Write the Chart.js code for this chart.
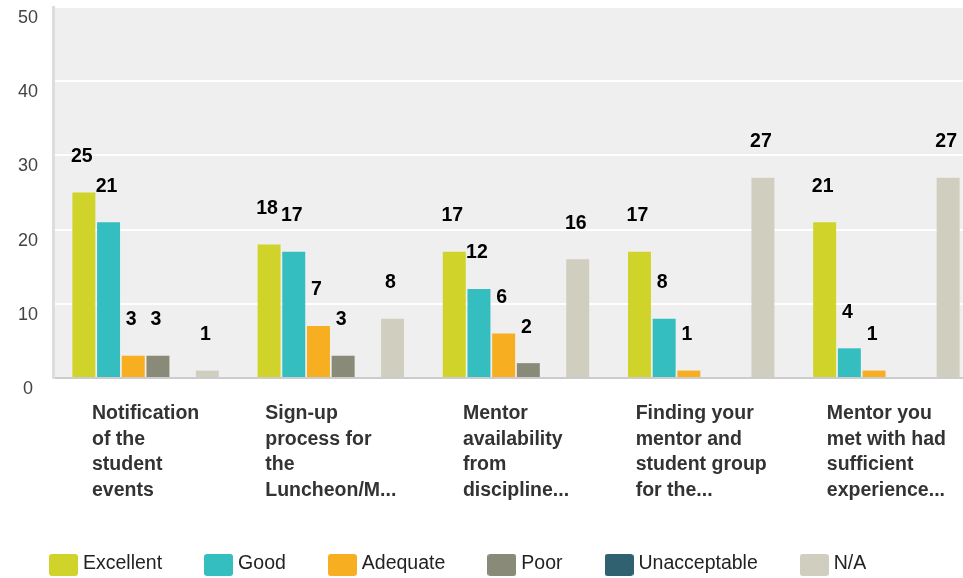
<!DOCTYPE html>
<html>
<head>
<meta charset="utf-8">
<script src="https://cdn.jsdelivr.net/npm/chart.js@4/dist/chart.umd.min.js"></script>
<style>
  html, body { margin: 0; padding: 0; background: #ffffff; overflow: hidden; }
  #wrap { width: 963px; height: 578px; position: relative; overflow: hidden; }
  #c { display: block; }
</style>
</head>
<body>
<div id="wrap"><canvas id="c" width="979" height="578"></canvas></div>
<script>
const categories = [
  ["Notification", "of the", "student", "events"],
  ["Sign-up", "process for", "the", "Luncheon/M..."],
  ["Mentor", "availability", "from", "discipline..."],
  ["Finding your", "mentor and", "student group", "for the..."],
  ["Mentor you", "met with had", "sufficient", "experience..."]
];
const seriesNames = ["Excellent", "Good", "Adequate", "Poor", "Unacceptable", "N/A"];
const excellent = [25, 18, 17, 17, 21];
const good = [21, 17, 12, 8, 4];
const adequate = [3, 7, 6, 1, 1];
const poor = [3, 3, 2, 0, 0];
const unacceptable = [0, 0, 0, 0, 0];
const na = [1, 8, 16, 27, 27];
const yTicks = [0, 10, 20, 30, 40, 50];

const seriesValues = [excellent, good, adequate, poor, unacceptable, na];
const seriesColors = ["#D0D32A", "#34BEC0", "#F7AE20", "#8A8A78", "#2F6170", "#D0CEBF"];

const FONT = "'Liberation Sans', Arial, Helvetica, sans-serif";
const BIG = 19.5;

function legendSwatch(color) {
  const c = document.createElement('canvas');
  c.width = 29; c.height = 28;
  const g = c.getContext('2d');
  g.fillStyle = color;
  g.beginPath();
  if (g.roundRect) g.roundRect(0, 4, 29, 22, 3); else g.rect(0, 4, 29, 22);
  g.fill();
  return c;
}
const swatches = seriesColors.map(legendSwatch);

const plotBg = {
  id: 'plotBg',
  beforeDraw(chart) {
    const { ctx, chartArea: a } = chart;
    ctx.save();
    ctx.fillStyle = '#EFEFEF';
    ctx.fillRect(a.left, a.top - 1, a.right - a.left, a.bottom - a.top + 1);
    ctx.restore();
  }
};

const valueLabels = {
  id: 'valueLabels',
  afterDatasetsDraw(chart) {
    const { ctx } = chart;
    ctx.save();
    ctx.font = "bold " + BIG + "px " + FONT;
    ctx.fillStyle = '#000000';
    ctx.textAlign = 'center';
    ctx.textBaseline = 'middle';
    chart.data.datasets.forEach((ds, di) => {
      const meta = chart.getDatasetMeta(di);
      meta.data.forEach((el, i) => {
        const v = ds.data[i];
        if (v > 0) ctx.fillText(String(v), el.x - 2, el.y - 36);
      });
    });
    ctx.restore();
  }
};

const catLabels = {
  id: 'catLabels',
  afterDraw(chart) {
    const { ctx, chartArea: a } = chart;
    const xs = chart.scales.x;
    ctx.save();
    ctx.font = "bold " + BIG + "px " + FONT;
    ctx.fillStyle = '#333333';
    ctx.textAlign = 'left';
    ctx.textBaseline = 'middle';
    categories.forEach((lines, i) => {
      const cx = xs.getPixelForTick(i);
      const w = Math.max(...lines.map(l => ctx.measureText(l).width));
      const left = cx - w / 2;
      lines.forEach((l, k) => {
        ctx.fillText(l, left, a.bottom + 36 + k * 25.5);
      });
    });
    ctx.restore();
  }
};

new Chart(document.getElementById('c'), {
  type: 'bar',
  data: {
    labels: categories,
    datasets: seriesNames.map((name, i) => ({
      label: name,
      data: seriesValues[i],
      backgroundColor: seriesColors[i],
      borderWidth: 0,
      categoryPercentage: 0.8,
      barPercentage: 0.93
    }))
  },
  options: {
    responsive: false,
    animation: false,
    devicePixelRatio: 1,
    layout: { padding: { top: 7, right: 0, left: 7, bottom: -5.75 } },
    plugins: {
      tooltip: { enabled: false },
      legend: {
        position: 'bottom',
        align: 'start',
        labels: {
          usePointStyle: true,
          pointStyleWidth: 19.5,
          boxHeight: 19.5,
          padding: 46.75,
          color: '#222222',
          font: { family: FONT, size: BIG },
          generateLabels(chart) {
            const items = Chart.defaults.plugins.legend.labels.generateLabels(chart);
            items.forEach((it, i) => { it.pointStyle = swatches[i]; });
            return items;
          }
        }
      }
    },
    scales: {
      x: {
        grid: { display: false, drawTicks: false },
        border: { display: true, color: '#CCCCCC', width: 2 },
        ticks: { display: false },
        afterFit(s) { s.height = 129.5; s.paddingLeft = 0; s.paddingRight = 0; }
      },
      y: {
        min: 0,
        max: 50,
        afterBuildTicks(s) { s.ticks = yTicks.map(v => ({ value: v })); },
        grid: { color: '#FFFFFF', lineWidth: 2, drawTicks: false },
        border: { display: true, color: '#DDDDDD', width: 3 },
        ticks: {
          color: '#444444',
          font: { family: FONT, size: 18 },
          padding: 15,
          crossAlign: 'center',
          labelOffset: 11
        },
        afterFit(s) { s.width = 46; s.paddingTop = 0; s.paddingBottom = 0; }
      }
    }
  },
  plugins: [plotBg, valueLabels, catLabels]
});
</script>
</body>
</html>
